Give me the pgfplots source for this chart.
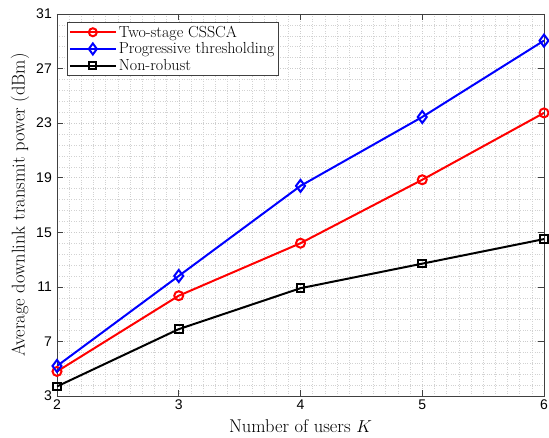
\documentclass[border=0pt]{standalone}
\usepackage{fontspec}
\usepackage{pgfplots}
\pgfplotsset{compat=1.18}
\newfontfamily\tickfont{Liberation Sans}
\begin{document}
\begin{tikzpicture}
\begin{axis}[
  scale only axis,
  width=487pt, height=382pt,
  xmin=2, xmax=6, ymin=3, ymax=31,
  xtick={2,3,4,5,6},
  ytick={3,7,11,15,19,23,27,31},
  minor x tick num=9,
  minor y tick num=4,
  grid=both,
  major grid style={gray!40, dotted, line width=0.5pt},
  minor grid style={gray!35, dotted, line width=0.5pt},
  tick align=inside,
  major tick length=6pt,
  minor tick length=0pt,
  axis line style={black!75, line width=0.7pt},
  every tick/.style={black!75, line width=0.7pt},
  tick label style={font=\tickfont\fontsize{14}{16}\selectfont},
  yticklabel style={anchor=east, inner sep=0pt, xshift=-5pt},
  xticklabel style={anchor=north, inner sep=0pt, yshift=-4pt},
  /pgf/number format/assume math mode=true,
  xlabel={Number of users $K$},
  ylabel={Average downlink transmit power (dBm)},
  label style={font=\fontsize{18.5}{20}\selectfont},
  xlabel style={at={(axis description cs:0.5,0)}, anchor=center, yshift=-30pt},
  ylabel style={at={(axis description cs:0,0.5)}, anchor=center, yshift=37pt},
  legend style={font=\fontsize{16}{19.5}\selectfont, draw=black!75, line width=0.7pt, inner sep=1.5pt, row sep=0pt,
    at={(axis description cs:0,1)}, anchor=north west, xshift=10pt, yshift=-8pt},
  legend cell align=left,
  every axis plot/.append style={line width=2pt, mark size=4.5pt},
]
\addplot[red, mark=o, forget plot] coordinates {(2,4.8) (3,10.35) (4,14.2) (5,18.85) (6,23.75)};
\addplot[blue, mark=diamond, mark size=6pt, forget plot] coordinates {(2,5.2) (3,11.8) (4,18.4) (5,23.45) (6,29.05)};
\addplot[black, mark=square, mark size=3.8pt, forget plot] coordinates {(2,3.7) (3,7.9) (4,10.9) (5,12.7) (6,14.5)};
\addlegendimage{legend image code/.code={\draw[red, line width=2pt] (0pt,0pt) -- (46pt,0pt); \draw[red, line width=2pt] (23pt,0pt) circle[radius=4pt];}}
\addlegendentry{Two-stage CSSCA}
\addlegendimage{legend image code/.code={\draw[blue, line width=2pt] (0pt,0pt) -- (46pt,0pt); \draw[blue, line width=2pt, line join=miter] (23pt,5.5pt) -- (27pt,0pt) -- (23pt,-5.5pt) -- (19pt,0pt) -- cycle;}}
\addlegendentry{Progressive thresholding}
\addlegendimage{legend image code/.code={\draw[black, line width=2pt] (0pt,0pt) -- (46pt,0pt); \draw[black, line width=2pt] (19.5pt,-3.5pt) rectangle (26.5pt,3.5pt);}}
\addlegendentry{Non-robust}
\end{axis}
\pgfresetboundingbox
\path[use as bounding box] (-57pt,-42pt) rectangle (492pt,396pt);
\end{tikzpicture}
\end{document}
